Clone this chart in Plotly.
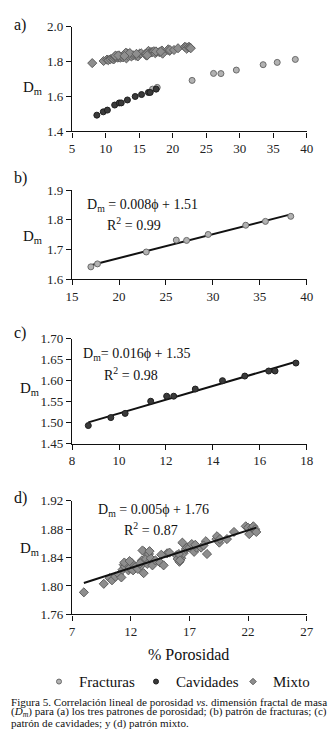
import numpy as np
import plotly.graph_objects as go

# ---------------- data ----------------
frac_x = [17.0, 17.7, 22.9, 26.1, 27.2, 29.5, 33.5, 35.6, 38.3]
frac_y = [1.642, 1.652, 1.692, 1.732, 1.731, 1.751, 1.782, 1.795, 1.812]

cav_x = [8.69, 9.65, 10.26, 11.35, 12.03, 12.33, 13.25, 14.41, 15.36, 16.38, 16.65, 17.54]
cav_y = [1.493, 1.512, 1.522, 1.551, 1.563, 1.563, 1.580, 1.600, 1.611, 1.623, 1.623, 1.642]

mix_x = [8.0, 9.7, 10.2, 10.4, 10.7, 11.0, 11.2, 11.3, 11.4, 11.5, 11.65, 11.8, 11.9, 12.05, 12.2,
         12.4, 12.6, 12.9, 12.95, 13.1, 13.15, 13.3, 13.4, 13.55, 13.7, 13.85, 14.1, 14.5, 14.8, 15.1,
         15.3, 15.9, 16.0, 16.15, 16.3, 16.4, 16.5, 16.7, 16.8, 17.0, 17.2, 17.4, 17.6, 18.0, 18.4,
         18.5, 19.3, 19.35, 19.55, 19.6, 20.2, 20.8, 21.8, 22.0, 22.1, 22.35, 22.45, 22.6, 22.7,
         11.45, 11.9, 13.0, 13.6, 14.6, 16.1, 16.2, 17.5, 18.2, 12.8]
mix_y = [1.791, 1.803, 1.811, 1.808, 1.813, 1.816, 1.812, 1.823, 1.830, 1.827, 1.831, 1.822, 1.825, 1.833, 1.822,
         1.827, 1.824, 1.829, 1.836, 1.818, 1.848, 1.838, 1.831, 1.845, 1.839, 1.829, 1.836, 1.833, 1.829, 1.846,
         1.847, 1.843, 1.838, 1.834, 1.839, 1.861, 1.846, 1.852, 1.854, 1.854, 1.859, 1.848, 1.854, 1.854, 1.863,
         1.845, 1.866, 1.870, 1.861, 1.866, 1.866, 1.876, 1.884, 1.882, 1.873, 1.882, 1.884, 1.880, 1.876,
         1.833, 1.835, 1.850, 1.849, 1.844, 1.845, 1.836, 1.858, 1.857, 1.832]

series_names = ["Fracturas", "Cavidades", "Mixto"]
panel_labels = ["a)", "b)", "c)", "d)"]
eq_b = ["D<sub>m</sub> = 0.008ϕ + 1.51", "R<sup>2</sup> = 0.99"]
eq_c = ["D<sub>m</sub>= 0.016ϕ + 1.35", "R<sup>2</sup> = 0.98"]
eq_d = ["D<sub>m</sub> = 0.005ϕ + 1.76", "R<sup>2</sup> = 0.87"]
x_title = "% Porosidad"
caption_lines = [
    "Figura 5. Correlación lineal de porosidad <i>vs.</i> dimensión fractal de masa",
    "(<i>D<sub>m</sub></i>) para (a) los tres patrones de porosidad; (b) patrón de fracturas; (c)",
    "patrón de cavidades; y (d) patrón mixto.",
]

# ---------------- styles ----------------
W, H = 330, 736
SERIF = "Liberation Serif, Times New Roman, Tinos, DejaVu Serif, serif"
frac_marker = dict(symbol="circle", size=6, color="#b2b2b2", line=dict(color="#6a6a6a", width=1))
cav_marker = dict(symbol="circle", size=6, color="#3a3a3a", line=dict(color="#1e1e1e", width=1))
mix_marker = dict(symbol="diamond", size=7, color="#8e8e8e", line=dict(color="#5e5e5e", width=1))


def px_x(p):
    return p / W


def px_y(p):
    return 1 - p / H


fig = go.Figure()

# panel a (all three)
fig.add_trace(go.Scatter(x=frac_x, y=frac_y, mode="markers", marker=frac_marker,
                         xaxis="x", yaxis="y", showlegend=False))
fig.add_trace(go.Scatter(x=cav_x, y=cav_y, mode="markers", marker=cav_marker,
                         xaxis="x", yaxis="y", showlegend=False))
fig.add_trace(go.Scatter(x=mix_x, y=mix_y, mode="markers", marker=mix_marker,
                         xaxis="x", yaxis="y", showlegend=False))


def add_fit(xs, ys, xa, ya):
    k, b = np.polyfit(xs, ys, 1)
    lx = np.array([min(xs), max(xs)])
    fig.add_trace(go.Scatter(x=lx, y=k * lx + b, mode="lines", line=dict(color="#111111", width=2),
                             xaxis=xa, yaxis=ya, showlegend=False, hoverinfo="skip"))


# panel b
add_fit(frac_x, frac_y, "x2", "y2")
fig.add_trace(go.Scatter(x=frac_x, y=frac_y, mode="markers", marker=frac_marker,
                         xaxis="x2", yaxis="y2", showlegend=False))
# panel c
add_fit(cav_x, cav_y, "x3", "y3")
fig.add_trace(go.Scatter(x=cav_x, y=cav_y, mode="markers", marker=cav_marker,
                         xaxis="x3", yaxis="y3", showlegend=False))
# panel d
fig.add_trace(go.Scatter(x=mix_x, y=mix_y, mode="markers", marker=mix_marker,
                         xaxis="x4", yaxis="y4", showlegend=False))
add_fit(mix_x, mix_y, "x4", "y4")

# legend-only entries
for name, mk in zip(series_names, [frac_marker, cav_marker, mix_marker]):
    m = dict(mk)
    m["size"] = 5
    fig.add_trace(go.Scatter(x=[None], y=[None], mode="markers", marker=m, name=name,
                             xaxis="x4", yaxis="y4", showlegend=True))

xdom = [px_x(68), px_x(313)]
panels = [
    # (top px, bottom px, yrange, ydtick, xrange, xdtick, fmt)
    (20, 127, [1.4, 2.0], 0.2, [5, 40], 5, ".1f"),
    (187, 278, [1.6, 1.9], 0.1, [15, 40], 5, ".1f"),
    (338.6, 445.7, [1.45, 1.70], 0.05, [8, 18], 2, ".2f"),
    (504, 620, [1.76, 1.92], 0.04, [7, 27], 5, ".2f"),
]

axis_font = dict(family=SERIF, size=13, color="#222222")
lay = {}
for i, (top, bot, yr, ydt, xr, xdt, fmt) in enumerate(panels):
    sfx = "" if i == 0 else str(i + 1)
    lay["xaxis" + sfx] = dict(domain=xdom, range=xr, dtick=xdt, tick0=xr[0], anchor="y" + sfx,
                              showline=True, linecolor="#111111", linewidth=1.3,
                              ticks="outside", ticklen=5, tickcolor="#111111", tickwidth=1.3,
                              showgrid=False, zeroline=False, tickfont=axis_font, fixedrange=True)
    lay["yaxis" + sfx] = dict(domain=[px_y(bot), px_y(top)], range=yr, dtick=ydt, tick0=yr[0],
                              anchor="x" + sfx, tickformat=fmt,
                              showline=True, linecolor="#111111", linewidth=1.3,
                              ticks="outside", ticklen=5, tickcolor="#111111", tickwidth=1.3,
                              showgrid=False, zeroline=False, tickfont=axis_font, fixedrange=True)

annots = []
DY = 3  # small downward nudge of annotation text to match glyph centres


def ann(text, x, y, size=15, xanchor="center", yanchor="middle", align="center", pad=1):
    annots.append(dict(text=text, x=px_x(x), y=px_y(y + DY), xref="paper", yref="paper",
                       showarrow=False, xanchor=xanchor, yanchor=yanchor, align=align,
                       borderpad=pad,
                       font=dict(family=SERIF, size=size, color="#111111")))


# panel labels
for lab, yy in zip(panel_labels, [15, 172, 330, 498]):
    ann(lab, 5, yy, size=16, xanchor="left")
# D_m labels
for yy, xx in zip([80, 232, 387, 550], [27, 27, 24, 24]):
    ann("D<sub>m</sub>", xx, yy, size=15)
# equations
ann(eq_b[0], 142, 200, size=14)
ann(eq_b[1], 133, 219, size=14)
ann(eq_c[0], 135, 352, size=14)
ann(eq_c[1], 130, 372, size=14)
ann(eq_d[0], 153, 511, size=14)
ann(eq_d[1], 150, 530, size=14)
# x title
ann(x_title, 190, 658, size=16)
# caption, one annotation per line for tight leading
for line, yy in zip(caption_lines, [706, 717, 728]):
    ann(line, 3, yy, size=11.1, xanchor="left", align="left", pad=0)

fig.update_layout(
    width=W, height=H,
    margin=dict(l=0, r=0, t=0, b=0),
    paper_bgcolor="white", plot_bgcolor="white",
    annotations=annots,
    font=dict(family=SERIF),
    legend=dict(orientation="h", x=px_x(47), y=px_y(672), xanchor="left", yanchor="top",
                entrywidth=52, entrywidthmode="pixels",
                font=dict(family=SERIF, size=15, color="#111111"),
                bgcolor="rgba(0,0,0,0)", borderwidth=0, tracegroupgap=0),
    showlegend=True,
    **lay,
)

fig.write_html("out.html", config={"displayModeBar": False},
               post_script="document.body.style.margin='0';document.body.style.padding='0';")
